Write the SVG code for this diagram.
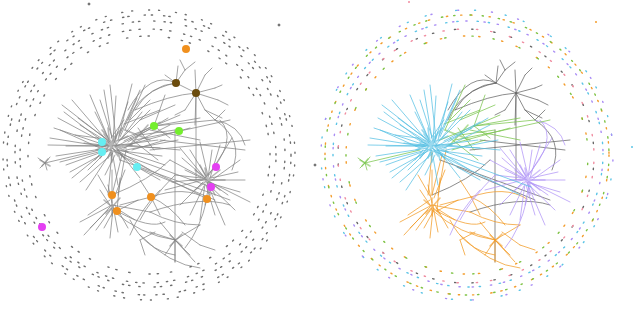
<svg xmlns="http://www.w3.org/2000/svg" xmlns:xlink="http://www.w3.org/1999/xlink" width="640" height="310" viewBox="0 0 640 310">
<style>
.e{fill:none;stroke-width:0.75;stroke-linecap:round}
.ring{fill:none;stroke-width:1.4;stroke-linecap:round}
.L{stroke:#555;opacity:0.72}
.hub{stroke-width:1.6}
</style>
<defs>
<g id="cyanC">
<path class="e" d="M108 145L58 118M110 142L62 105M106 147L50 138M108 148L56 156M110 150L70 172M111 152L86 190M109 140L90 95M112 139L104 90M113 141L116 96M114 143L128 102M116 145L142 112M115 147L152 128M112 146L158 140M114 150L162 156M105 146L48 145M109 143L72 100M106 141L80 125M108 150L88 170M112 151L118 185M104 145L84 143M111 138L124 120M103 150L95 160M118 140L132 84M122 138L150 110M124 148L170 125M126 150L178 140M120 152L150 170M122 146L160 148M119 136L140 90M107 136L95 112M100 148L60 130M102 152L66 165M98 138L75 135M115 155L105 175M128 142L168 118M112 148L137 167L160 180M110 150L211 187M120 155L200 195M106 144L64 112M108 146L54 128M110 149L60 162M113 153L80 182M116 139L110 85M120 137L137 98M124 141L160 122M117 149L165 165M105 138L78 118M104 152L72 178M126 145L180 150M118 150L140 178M112 137L100 100M109 146L66 146"/>
<path class="e hub" d="M98 138L128 152M96 150L128 136M102 130L124 158M100 158L122 128M94 145L132 145M108 128L112 162M114 136L120 160M100 142L126 148M104 134L118 156M96 146L120 140M118 132L108 158" opacity="0.6"/>
</g>
<g id="greenC">
<path class="e" d="M120 140L154 126M154 126L180 115M154 126L200 118M154 126L215 120M140 135L175 130M130 120L150 100M154 126L165 95M135 140L180 131M180 131L230 120M125 130L145 85M154 126L170 138M128 145L190 128M45 163L100 150M45 163L38 158M45 163L40 168M45 163L50 157M45 163L47 170M130 138L158 160M138 128L154 150M150 130L200 140M124 124L160 110M132 150L165 140M140 120L175 105"/>
<path class="e hub" d="M125 130L150 140M130 145L148 125M40 160L50 166M42 166L48 159" opacity="0.6"/>
</g>
<g id="orangeC">
<path class="e" d="M112 205L80 222M110 200L88 215M112 208L96 230M114 210L104 228M113 206L118 232M115 205L128 228M112 203L108 185M110 205L100 190M116 208L135 220M108 210L90 228M112 195L112 170M114 198L125 170M110 196L98 175M117 211L138 200M117 211L120 178M112 205L150 212M151 197L120 205M151 197L160 215M151 197L140 180M112 195L122 155M118 195L126 150M108 195L112 152M175 240L175 262M175 240L165 255M175 240L190 255M175 240L195 262M175 240L150 232M175 240L200 225M175 240L160 222M155 232L140 240M140 240L145 255M182 232L200 245M200 245L215 250M150 212Q175 225 200 225M112 210Q140 235 175 240M130 220Q145 250 175 255M140 235Q170 265 200 268M151 197Q170 205 185 225M110 207L84 235M113 209L110 238M117 211Q150 230 165 222M151 197Q185 185 207 199"/>
<path class="e hub" d="M104 200L120 214M106 214L120 198M170 235L182 246M170 246L182 234M112 198L112 216" opacity="0.6"/>
</g>
<g id="purpleC">
<path class="e" d="M207 180L170 160M205 178L180 148M208 176L200 142M210 178L220 145M212 180L240 160M210 182L250 202M208 184L235 210M206 185L215 215M205 184L200 220M203 182L180 205M203 180L165 190M206 176L190 150M209 175L232 138M210 180L245 180M207 183L225 225M204 186L190 215M208 181L228 195M201 178L175 175M206 180L185 170M209 185L205 205M211 178L238 172M203 176L182 158M205 178Q240 140 220 120M215 120Q240 125 245 145M175 175Q150 200 140 220M160 190Q140 210 130 235M206 182L240 192M204 179L172 182M208 178L212 150M207 199Q200 230 185 248"/>
<path class="e hub" d="M195 170L220 190M195 190L220 170M200 165L215 195M190 180L225 180M205 168L210 195" opacity="0.6"/>
</g>
<g id="grayC">
<path class="e" d="M176 83L178 66M176 83L165 75M176 83L185 70M176 83L196 93M196 93L195 70M196 93L205 75M196 93L215 88M196 93L218 100M196 93L205 110M196 93L195 125M196 93L185 110M185 70L180 60M185 70L195 62M205 75L212 68M215 88L222 85M205 110L215 120M185 110L175 115M176 83Q140 90 128 120M176 83Q150 85 135 110M196 93L196 180M215 120L225 110M205 110L222 118M218 100L228 105M175 130L175 262M150 150L250 140M160 140L245 150M215 120Q245 140 232 170M135 110Q170 95 196 93M112 195Q150 180 170 160M150 212Q200 195 230 205M120 160L230 200M137 167L215 200M128 110Q150 70 176 83"/>
</g>
</defs>
<g id="left-panel">
<g id="left-rings" stroke="#6e6e6e">
<ellipse class="ring" cx="149" cy="155" rx="142" ry="140" stroke-dasharray="1.3 6 1.3 11 1.3 4 1.3 15"/>
<ellipse class="ring" cx="150" cy="154" rx="135" ry="133" stroke-dasharray="1.3 9 1.3 5 1.3 14" stroke-dashoffset="3"/>
<ellipse class="ring" cx="148" cy="156" rx="128" ry="127" stroke-dasharray="1.3 8 1.3 13 1.3 6" stroke-dashoffset="5"/>
<ellipse class="ring" cx="149" cy="155" rx="121" ry="119" stroke-dasharray="1.3 12 1.3 7 1.3 19" stroke-dashoffset="2"/>
<ellipse class="ring" cx="149" cy="155" rx="146" ry="145" stroke-dasharray="1 16 1 9" stroke-dashoffset="7"/>
<circle cx="89" cy="4" r="1" fill="#666"/>
<circle cx="315" cy="165" r="1" fill="#666"/>
<circle cx="279" cy="25" r="1" fill="#666"/>
</g>
<g id="left-network" class="L">
<use xlink:href="#cyanC"/>
<use xlink:href="#greenC"/>
<use xlink:href="#orangeC"/>
<use xlink:href="#purpleC"/>
<use xlink:href="#grayC"/>
</g>
<g id="left-markers">
<circle cx="186" cy="49" r="4" fill="#f0901e"/>
<circle cx="176" cy="83" r="4" fill="#6b4c0d"/>
<circle cx="196" cy="93" r="4" fill="#6b4c0d"/>
<circle cx="154" cy="126" r="4" fill="#74ee2e"/>
<circle cx="179" cy="131" r="4" fill="#74ee2e"/>
<circle cx="102" cy="142" r="4" fill="#66eef2"/>
<circle cx="102" cy="152" r="4" fill="#66eef2"/>
<circle cx="137" cy="167" r="4" fill="#66eef2"/>
<circle cx="216" cy="167" r="4" fill="#e43ff2"/>
<circle cx="211" cy="187" r="4" fill="#e43ff2"/>
<circle cx="207" cy="199" r="4" fill="#f0901e"/>
<circle cx="151" cy="197" r="4" fill="#f0901e"/>
<circle cx="112" cy="195" r="4" fill="#f0901e"/>
<circle cx="117" cy="211" r="4" fill="#f0901e"/>
<circle cx="42" cy="227" r="4" fill="#e43ff2"/>
</g>
</g>
<g id="right-panel">
<g id="right-rings">
<ellipse class="ring" cx="467" cy="155" rx="142" ry="140" stroke="#f39c2b" stroke-dasharray="1.3 13 1.3 9 1.3 17"/>
<ellipse class="ring" cx="467" cy="155" rx="142" ry="140" stroke="#7dc242" stroke-dasharray="1.3 15 1.3 11" stroke-dashoffset="7"/>
<ellipse class="ring" cx="468" cy="154" rx="135" ry="133" stroke="#a98cf5" stroke-dasharray="1.3 17 1.3 12" stroke-dashoffset="3"/>
<ellipse class="ring" cx="468" cy="154" rx="135" ry="133" stroke="#5bc4e6" stroke-dasharray="1.3 19 1.3 10" stroke-dashoffset="12"/>
<ellipse class="ring" cx="466" cy="156" rx="128" ry="127" stroke="#666" stroke-dasharray="1.3 16 1.3 21" stroke-dashoffset="5"/>
<ellipse class="ring" cx="466" cy="156" rx="128" ry="127" stroke="#f08ca0" stroke-dasharray="1.3 18 1.3 13" stroke-dashoffset="13"/>
<ellipse class="ring" cx="467" cy="155" rx="121" ry="119" stroke="#f39c2b" stroke-dasharray="1.3 22 1.3 14" stroke-dashoffset="2"/>
<ellipse class="ring" cx="467" cy="155" rx="121" ry="119" stroke="#7dc242" stroke-dasharray="1.3 20 1.3 26" stroke-dashoffset="13"/>
<ellipse class="ring" cx="467" cy="155" rx="146" ry="145" stroke="#5bc4e6" stroke-dasharray="1 30 1 18" stroke-dashoffset="7"/>
<ellipse class="ring" cx="467" cy="155" rx="146" ry="145" stroke="#a98cf5" stroke-dasharray="1 26 1 33" stroke-dashoffset="22"/>
<circle cx="409" cy="2" r="1" fill="#f08ca0"/>
<circle cx="596" cy="22" r="1" fill="#f39c2b"/>
<circle cx="632" cy="147" r="1" fill="#5bc4e6"/>
</g>
<g id="right-network" opacity="0.9">
<use xlink:href="#grayC" x="320" style="stroke:#555"/>
<use xlink:href="#orangeC" x="320" style="stroke:#f0900f"/>
<use xlink:href="#purpleC" x="320" style="stroke:#a88af5"/>
<use xlink:href="#greenC" x="320" style="stroke:#6cbf3a"/>
<use xlink:href="#cyanC" x="320" style="stroke:#45b9e0"/>
</g>
</g>
</svg>
